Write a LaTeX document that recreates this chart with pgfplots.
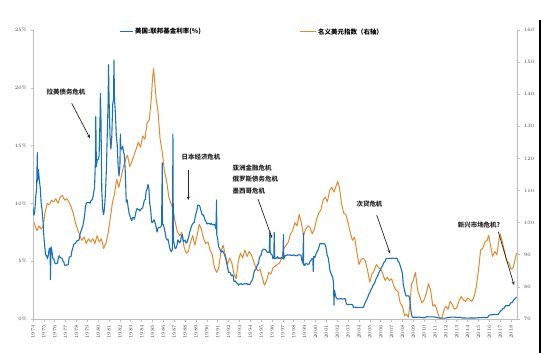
\documentclass[border=0pt]{standalone}
\usepackage{pgfplots}
\pgfplotsset{compat=1.18}
\usepackage{fontspec}
\usetikzlibrary{arrows.meta}
\newfontfamily\cjk{Noto Sans CJK SC}
\definecolor{fedblue}{RGB}{25,112,190}
\definecolor{usdorange}{RGB}{226,138,46}
\definecolor{axgray}{RGB}{190,190,190}
\definecolor{lblgray}{RGB}{70,70,70}
\begin{document}
\begin{tikzpicture}[x=1bp,y=1bp]
\pgfplotsset{
 common/.style={
  scale only axis, width=484bp, height=289bp, at={(33bp,34bp)}, anchor=south west,
  xmin=1974, xmax=2018.55,
  axis line style={axgray, line width=0.9pt},
  tick style={axgray, line width=0.6pt},
  major tick length=2.5bp,
  tick align=outside,
  ticklabel style={font=\fontsize{4.8}{5}\selectfont, text=lblgray},
  /pgf/number format/set thousands separator={},
 }
}
% ---------- right axis: nominal dollar index ----------
\begin{axis}[common,
  axis x line=none,
  axis y line*=right,
  ymin=70, ymax=160, ytick={70,80,...,160},
  yticklabel style={xshift=1bp},
]
\addplot[usdorange, line width=1pt, line join=round] coordinates {
(1974.00,101)(1974.15,99.5)(1974.35,97.5)(1974.55,99)(1974.75,98)(1974.95,99)
(1975.10,103)(1975.30,106)(1975.50,105.5)(1975.70,107)(1975.90,106.5)
(1976.10,107.5)(1976.30,106)(1976.50,108)(1976.70,108.5)(1976.90,107)
(1977.10,107.5)(1977.30,106.5)(1977.50,105)(1977.70,103)(1977.90,100)
(1978.10,98)(1978.30,96)(1978.50,94.5)(1978.70,95.5)(1978.90,93.5)
(1979.10,95)(1979.30,94)(1979.50,95)(1979.70,93.5)(1979.90,96)
(1980.10,94)(1980.30,95)(1980.50,92)(1980.70,93.5)(1980.90,96.5)
(1981.10,101)(1981.30,106)(1981.50,109)(1981.70,113.5)(1981.90,111)
(1982.10,114)(1982.30,117)(1982.50,119.5)(1982.70,121)(1982.90,117.5)
(1983.10,119)(1983.30,121)(1983.50,123)(1983.70,125)(1983.90,123.5)
(1984.10,127)(1984.30,126)(1984.50,131)(1984.70,132)(1984.90,139)
(1985.00,145)(1985.10,148)(1985.20,144)(1985.35,138)(1985.50,135)(1985.70,126)(1985.90,122)
(1986.10,116)(1986.30,113)(1986.50,108)(1986.70,106)(1986.90,104)
(1987.10,100)(1987.30,97)(1987.50,96)(1987.70,97)(1987.90,92.5)
(1988.10,90.5)(1988.30,91)(1988.50,94)(1988.70,96)(1988.90,93)
(1989.10,96)(1989.30,99.5)(1989.50,98)(1989.70,95)(1989.90,93.5)
(1990.10,94)(1990.30,91.5)(1990.50,90)(1990.70,86)(1990.90,84.5)
(1991.10,86)(1991.30,91)(1991.50,93)(1991.70,90)(1991.90,87)
(1992.10,89)(1992.30,87.5)(1992.50,84)(1992.70,82.5)(1992.90,88)
(1993.10,90.5)(1993.30,89)(1993.50,91.5)(1993.70,89.5)(1993.90,91)
(1994.10,90)(1994.30,88)(1994.50,86)(1994.70,85)(1994.90,85.5)
(1995.10,83)(1995.30,80.5)(1995.50,82)(1995.70,84.5)(1995.90,84)
(1996.10,86)(1996.30,86.5)(1996.50,87)(1996.70,87.5)(1996.90,89)
(1997.10,92)(1997.30,93)(1997.50,94)(1997.70,96.5)(1997.90,97.5)
(1998.10,100)(1998.30,99)(1998.50,102.5)(1998.70,100)(1998.90,96)
(1999.10,98)(1999.30,99)(1999.50,98.5)(1999.70,96.5)(1999.90,98)
(2000.10,101)(2000.30,103)(2000.50,104)(2000.70,107)(2000.90,108)
(2001.10,106.5)(2001.30,110)(2001.50,111)(2001.70,109.5)(2001.90,111.5)
(2002.05,112.8)(2002.20,111)(2002.40,106)(2002.60,103)(2002.80,102.5)
(2003.00,100)(2003.20,97)(2003.40,94.5)(2003.60,95.5)(2003.80,91)
(2004.00,87)(2004.20,88.5)(2004.40,89)(2004.60,88)(2004.80,85)
(2005.00,81.5)(2005.20,84)(2005.40,85)(2005.60,87)(2005.80,86)
(2006.00,85.5)(2006.20,84)(2006.40,82)(2006.60,83)(2006.80,82)
(2007.00,82.5)(2007.20,80.5)(2007.40,79)(2007.60,78.5)(2007.80,75)
(2008.00,74)(2008.20,71)(2008.40,71.5)(2008.55,70.5)(2008.70,75)(2008.85,81)
(2009.00,82)(2009.20,84.5)(2009.40,79)(2009.60,77)(2009.80,75)
(2010.00,76)(2010.20,78)(2010.40,81)(2010.60,79)(2010.80,74)
(2011.00,74.5)(2011.20,72.5)(2011.40,70.5)(2011.60,70)(2011.80,72.5)
(2012.00,74)(2012.20,73)(2012.40,75.5)(2012.60,74.5)(2012.80,73)
(2013.00,73.5)(2013.20,75.5)(2013.40,77)(2013.60,76)(2013.80,75.5)
(2014.00,76.5)(2014.20,76)(2014.40,75.5)(2014.60,77)(2014.80,80)
(2015.00,85)(2015.20,91.5)(2015.40,92)(2015.60,94)(2015.80,94.5)(2015.95,96)
(2016.10,93)(2016.30,89.5)(2016.50,91)(2016.70,90)(2016.90,95)
(2017.00,96.5)(2017.20,94)(2017.40,91)(2017.60,88)(2017.80,87.5)
(2018.00,85.5)(2018.20,86)(2018.40,89)(2018.50,90.5)
};
\end{axis}
% ---------- left axis: fed funds rate ----------
\begin{axis}[common,
  axis x line*=bottom,
  axis y line*=left,
  ymin=0, ymax=25, ytick={0,5,...,25},
  yticklabel={\pgfmathprintnumber{\tick}\%},
  xtick={1974,1975,...,2018},
  xticklabel style={rotate=90, anchor=east},
]
\addplot[fedblue, line width=1.1pt, line join=round] coordinates {
(1974.000,9.65)(1974.083,8.97)(1974.167,9.35)(1974.250,10.51)(1974.333,11.31)(1974.40,14.4)(1974.417,11.93)(1974.500,12.92)(1974.583,12.01)(1974.667,11.34)(1974.750,10.06)(1974.833,9.45)(1974.917,8.53)
(1975.000,7.13)(1975.083,6.24)(1975.167,5.54)(1975.250,5.49)(1975.333,5.22)(1975.417,5.55)(1975.500,6.10)(1975.583,6.14)(1975.60,3.4)(1975.667,6.24)(1975.750,5.82)(1975.833,5.22)(1975.917,5.20)
(1976.000,4.87)(1976.083,4.77)(1976.167,4.84)(1976.250,4.82)(1976.333,5.29)(1976.417,5.48)(1976.500,5.31)(1976.583,5.29)(1976.667,5.25)(1976.750,5.03)(1976.833,4.95)(1976.917,4.65)
(1977.000,4.61)(1977.083,4.68)(1977.167,4.69)(1977.250,4.73)(1977.333,5.35)(1977.417,5.39)(1977.500,5.42)(1977.583,5.90)(1977.667,6.14)(1977.750,6.47)(1977.833,6.51)(1977.917,6.56)
(1978.000,6.70)(1978.083,6.78)(1978.167,6.79)(1978.250,6.89)(1978.333,7.36)(1978.417,7.60)(1978.500,7.81)(1978.583,8.04)(1978.667,8.45)(1978.750,8.96)(1978.833,9.76)(1978.917,10.03)
(1979.000,10.07)(1979.083,10.06)(1979.167,10.09)(1979.250,10.01)(1979.333,10.24)(1979.417,10.29)(1979.500,10.47)(1979.583,10.94)(1979.667,11.43)(1979.750,13.77)(1979.78,17.5)(1979.833,13.18)(1979.917,13.78)
(1980.000,13.82)(1980.083,14.13)(1980.167,17.19)(1980.20,19.5)(1980.250,17.61)(1980.333,10.98)(1980.417,9.47)(1980.500,9.03)(1980.583,9.61)(1980.667,10.87)(1980.750,12.81)(1980.833,15.85)(1980.917,18.90)(1980.95,22.0)
(1981.000,19.08)(1981.083,15.93)(1981.167,14.70)(1981.250,15.72)(1981.333,18.52)(1981.417,19.10)(1981.45,22.4)(1981.500,19.04)(1981.583,17.82)(1981.667,15.87)(1981.750,15.08)(1981.833,13.31)(1981.917,12.37)
(1982.000,13.22)(1982.04,16.0)(1982.083,14.78)(1982.167,14.68)(1982.250,14.94)(1982.333,14.45)(1982.417,14.15)(1982.500,12.59)(1982.583,10.12)(1982.667,10.31)(1982.750,9.71)(1982.833,9.20)(1982.917,8.95)
(1983.000,8.68)(1983.083,8.51)(1983.167,8.77)(1983.250,8.80)(1983.333,8.63)(1983.417,8.98)(1983.500,9.37)(1983.583,9.56)(1983.667,9.45)(1983.750,9.48)(1983.833,9.34)(1983.917,9.47)
(1984.000,9.56)(1984.083,9.59)(1984.167,9.91)(1984.250,10.29)(1984.333,10.32)(1984.417,11.06)(1984.500,11.23)(1984.583,11.64)(1984.667,11.30)(1984.750,9.99)(1984.833,9.43)(1984.917,8.38)
(1985.000,8.35)(1985.083,8.50)(1985.167,8.58)(1985.250,8.27)(1985.333,7.97)(1985.417,7.53)(1985.500,7.88)(1985.583,7.90)(1985.667,7.92)(1985.750,7.99)(1985.833,8.05)(1985.90,13.5)(1985.917,8.27)
(1986.000,8.14)(1986.083,7.86)(1986.167,7.48)(1986.250,6.99)(1986.333,6.85)(1986.417,6.92)(1986.500,6.56)(1986.583,6.17)(1986.667,5.89)(1986.750,5.85)(1986.833,6.04)(1986.88,16.0)(1986.917,6.91)
(1987.000,6.43)(1987.083,6.10)(1987.167,6.13)(1987.250,6.37)(1987.333,6.85)(1987.417,6.73)(1987.500,6.58)(1987.583,6.73)(1987.667,7.22)(1987.750,7.29)(1987.833,6.69)(1987.917,6.77)
(1988.000,6.83)(1988.083,6.58)(1988.167,6.58)(1988.250,6.87)(1988.333,7.09)(1988.417,7.51)(1988.500,7.75)(1988.583,8.01)(1988.667,8.19)(1988.750,8.30)(1988.833,8.35)(1988.917,8.76)
(1989.000,9.12)(1989.083,9.36)(1989.167,9.85)(1989.250,9.84)(1989.333,9.81)(1989.417,9.53)(1989.500,9.24)(1989.583,8.99)(1989.667,9.02)(1989.750,8.84)(1989.833,8.55)(1989.917,8.45)
(1990.000,8.23)(1990.083,8.24)(1990.167,8.28)(1990.250,8.26)(1990.333,8.18)(1990.417,8.29)(1990.500,8.15)(1990.583,8.13)(1990.667,8.20)(1990.750,8.11)(1990.833,7.81)(1990.90,10.3)(1990.917,7.31)
(1991.000,6.91)(1991.083,6.25)(1991.167,6.12)(1991.250,5.91)(1991.333,5.78)(1991.417,5.90)(1991.500,5.82)(1991.583,5.66)(1991.667,5.45)(1991.750,5.21)(1991.833,4.81)(1991.917,4.43)
(1992.000,4.03)(1992.083,4.06)(1992.167,3.98)(1992.250,3.73)(1992.333,3.82)(1992.417,3.76)(1992.500,3.25)(1992.583,3.30)(1992.667,3.22)(1992.750,3.10)(1992.833,3.09)(1992.917,2.92)
(1993.000,3.02)(1993.083,3.03)(1993.167,3.07)(1993.250,2.96)(1993.333,3.00)(1993.417,3.04)(1993.500,3.06)(1993.583,3.03)(1993.667,3.09)(1993.750,2.99)(1993.833,3.02)(1993.917,2.96)
(1994.000,3.05)(1994.083,3.25)(1994.167,3.34)(1994.250,3.56)(1994.333,4.01)(1994.417,4.25)(1994.500,4.26)(1994.583,4.47)(1994.667,4.73)(1994.750,4.76)(1994.833,5.29)(1994.917,5.45)
(1995.000,5.53)(1995.083,5.92)(1995.167,5.98)(1995.250,6.05)(1995.333,6.01)(1995.417,6.00)(1995.500,5.85)(1995.583,5.74)(1995.667,5.80)(1995.750,5.76)(1995.80,7.6)(1995.833,5.80)(1995.917,5.60)
(1996.000,5.56)(1996.083,5.22)(1996.167,5.31)(1996.20,7.5)(1996.250,5.22)(1996.333,5.24)(1996.417,5.27)(1996.500,5.40)(1996.583,5.22)(1996.667,5.30)(1996.750,5.24)(1996.833,5.31)(1996.917,5.29)
(1997.000,5.25)(1997.05,7.3)(1997.083,5.19)(1997.167,5.39)(1997.250,5.51)(1997.333,5.50)(1997.417,5.56)(1997.500,5.52)(1997.583,5.54)(1997.667,5.54)(1997.750,5.50)(1997.833,5.52)(1997.917,5.50)
(1998.000,5.56)(1998.083,5.51)(1998.167,5.49)(1998.250,5.45)(1998.333,5.49)(1998.417,5.56)(1998.500,5.54)(1998.583,5.55)(1998.667,5.51)(1998.750,5.07)(1998.833,4.83)(1998.90,7.4)(1998.917,4.68)
(1999.000,4.63)(1999.083,4.76)(1999.167,4.81)(1999.250,4.74)(1999.333,4.74)(1999.417,4.76)(1999.500,4.99)(1999.583,5.07)(1999.667,5.22)(1999.750,5.20)(1999.80,4.1)(1999.833,5.42)(1999.917,5.30)
(2000.000,5.45)(2000.083,5.73)(2000.167,5.85)(2000.250,6.02)(2000.333,6.27)(2000.417,6.53)(2000.500,6.54)(2000.583,6.50)(2000.667,6.52)(2000.750,6.51)(2000.833,6.51)(2000.917,6.40)
(2001.000,5.98)(2001.083,5.49)(2001.167,5.31)(2001.250,4.80)(2001.333,4.21)(2001.417,3.97)(2001.500,3.77)(2001.583,3.65)(2001.667,3.07)(2001.70,1.2)(2001.750,2.49)(2001.833,2.09)(2001.917,1.82)
(2002.000,1.73)(2002.083,1.74)(2002.167,1.73)(2002.250,1.75)(2002.333,1.75)(2002.417,1.75)(2002.500,1.73)(2002.583,1.74)(2002.667,1.75)(2002.750,1.75)(2002.833,1.34)(2002.917,1.24)
(2003.000,1.24)(2003.083,1.26)(2003.167,1.25)(2003.250,1.26)(2003.333,1.26)(2003.417,1.22)(2003.500,1.01)(2003.583,1.03)(2003.667,1.01)(2003.750,1.01)(2003.833,1.00)(2003.917,0.98)
(2004.000,1.00)(2004.083,1.01)(2004.167,1.00)(2004.250,1.00)(2004.333,1.00)(2004.417,1.03)(2004.500,1.26)(2004.583,1.43)(2004.667,1.61)(2004.750,1.76)(2004.833,1.93)(2004.917,2.16)
(2005.000,2.28)(2005.083,2.50)(2005.167,2.63)(2005.250,2.79)(2005.333,3.00)(2005.417,3.04)(2005.500,3.26)(2005.583,3.50)(2005.667,3.62)(2005.750,3.78)(2005.833,4.00)(2005.917,4.16)
(2006.000,4.29)(2006.083,4.49)(2006.167,4.59)(2006.250,4.79)(2006.333,4.94)(2006.417,4.99)(2006.500,5.24)(2006.583,5.25)(2006.667,5.25)(2006.750,5.25)(2006.833,5.25)(2006.917,5.24)
(2007.000,5.25)(2007.083,5.26)(2007.167,5.26)(2007.250,5.25)(2007.333,5.25)(2007.417,5.25)(2007.500,5.26)(2007.583,5.02)(2007.667,4.94)(2007.750,4.76)(2007.833,4.49)(2007.917,4.24)
(2008.000,3.94)(2008.083,2.98)(2008.167,2.61)(2008.250,2.28)(2008.333,1.98)(2008.417,2.00)(2008.500,2.01)(2008.583,2.00)(2008.667,1.81)(2008.750,0.97)(2008.833,0.39)(2008.917,0.16)
(2009.000,0.15)(2009.250,0.15)(2009.500,0.16)(2009.750,0.12)
(2010.000,0.11)(2010.250,0.20)(2010.500,0.18)(2010.750,0.19)
(2011.000,0.17)(2011.250,0.10)(2011.500,0.07)(2011.750,0.07)
(2012.000,0.08)(2012.250,0.14)(2012.500,0.16)(2012.750,0.16)
(2013.000,0.14)(2013.250,0.15)(2013.500,0.09)(2013.750,0.09)
(2014.000,0.07)(2014.250,0.09)(2014.500,0.09)(2014.750,0.09)
(2015.000,0.11)(2015.250,0.12)(2015.500,0.13)(2015.833,0.12)(2015.917,0.24)
(2016.000,0.34)(2016.250,0.37)(2016.500,0.39)(2016.750,0.40)(2016.833,0.41)(2016.917,0.54)
(2017.000,0.65)(2017.167,0.79)(2017.250,0.90)(2017.333,0.91)(2017.417,1.04)(2017.500,1.15)(2017.750,1.15)(2017.833,1.16)(2017.917,1.30)
(2018.000,1.41)(2018.083,1.42)(2018.167,1.51)(2018.250,1.69)(2018.333,1.70)(2018.417,1.82)(2018.500,1.91)
};
\end{axis}
% ---------- legend ----------
\draw[fedblue, line width=1pt] (120,321.3) -- (133,321.3);
\node[anchor=west, inner sep=0pt, font=\cjk\bfseries\fontsize{6.5}{7}\selectfont] at (135,321.3) {美国:联邦基金利率(\%)};
\draw[usdorange, line width=1pt] (300,321.3) -- (316,321.3);
\node[anchor=west, inner sep=0pt, font=\cjk\bfseries\fontsize{6.5}{7}\selectfont] at (318,321.3) {名义美元指数（右轴）};
% ---------- annotations ----------
\begin{scope}[every node/.style={inner sep=0pt, font=\cjk\bfseries\fontsize{6.5}{7}\selectfont, text=black!85}, arr/.style={-{Stealth[length=3.5bp,width=3bp]}, line width=0.7pt, black!85}]
\node at (66,261) {拉美债务危机};
\draw[arr] (71.7,249.7) -- (90,214.7);
\node at (201,196.3) {日本经济危机};
\draw[arr] (188.3,183) -- (188.3,153);
\node[anchor=west] at (232.5,184.7) {亚洲金融危机};
\node[anchor=west] at (232.5,173.7) {俄罗斯债务危机};
\node[anchor=west] at (232.5,162.3) {墨西哥危机};
\draw[arr] (258,154) -- (272,115);
\node at (369.5,149) {次贷危机};
\draw[arr] (376.7,138) -- (390,99.7);
\node at (479,128) {新兴市场危机?};
\draw[arr] (498.3,121.3) -- (514,68);
\end{scope}
% right frame line of the screenshot
\draw[black, line width=2bp] (539.5,333) -- (539.5,0);
\pgfresetboundingbox
\path[use as bounding box] (0,0) rectangle (550,353);
\end{tikzpicture}
\end{document}
